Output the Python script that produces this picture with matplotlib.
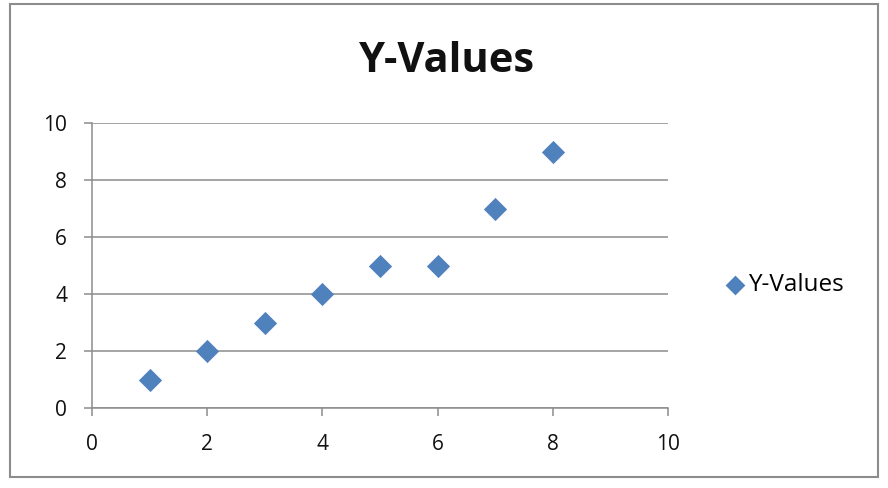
import matplotlib
matplotlib.use("Agg")
import matplotlib.pyplot as plt
from matplotlib.patches import Rectangle

x_values = [1, 2, 3, 4, 5, 6, 7, 8]
y_values = [1, 2, 3, 4, 5, 5, 7, 9]
series_name = "Y-Values"
title = "Y-Values"
x_ticks = [0, 2, 4, 6, 8, 10]
y_ticks = [0, 2, 4, 6, 8, 10]

plt.rcParams['font.family'] = ['Open Sans', 'DejaVu Sans']

fig = plt.figure(figsize=(8.88, 4.88), dpi=100)
ax = fig.add_axes([92/888, 1-408/488, (668-92)/888, (408-123)/488])

ax.scatter(x_values, y_values, marker='D', s=140, color='#4F81BD', zorder=3,
           label=series_name, linewidths=0)

ax.set_xlim(0, 10)
ax.set_ylim(0, 10)
ax.set_xticks(x_ticks)
ax.set_yticks(y_ticks)
ax.grid(axis='y', color='#8C8C8C', linewidth=1.1)
ax.set_axisbelow(True)
for side in ['top', 'right']:
    ax.spines[side].set_visible(False)
for side in ['left', 'bottom']:
    ax.spines[side].set_color('#8C8C8C')
    ax.spines[side].set_linewidth(1.1)
ax.tick_params(axis='both', colors='#8C8C8C', length=6, width=1.1,
               labelcolor='#111111', labelsize=15)
ax.tick_params(axis='x', pad=13)
ax.tick_params(axis='y', pad=12)

fig.text(447/888, 1-61/488, title, ha='center', va='center',
         fontsize=30, fontweight='bold', color='#111111')

leg = fig.legend(loc='center left', bbox_to_anchor=(726/888, 1-285/488),
                 frameon=False, fontsize=17.5, handlelength=0.75,
                 handletextpad=0.15, markerscale=0.85,
                 borderpad=0, borderaxespad=0)

fig.patches.append(Rectangle((10/888, 1-477/488), (878-10)/888, (477-4)/488,
                             transform=fig.transFigure, fill=False,
                             edgecolor='#8C8C8C', linewidth=1.5))

fig.savefig('out.png', dpi=100)
